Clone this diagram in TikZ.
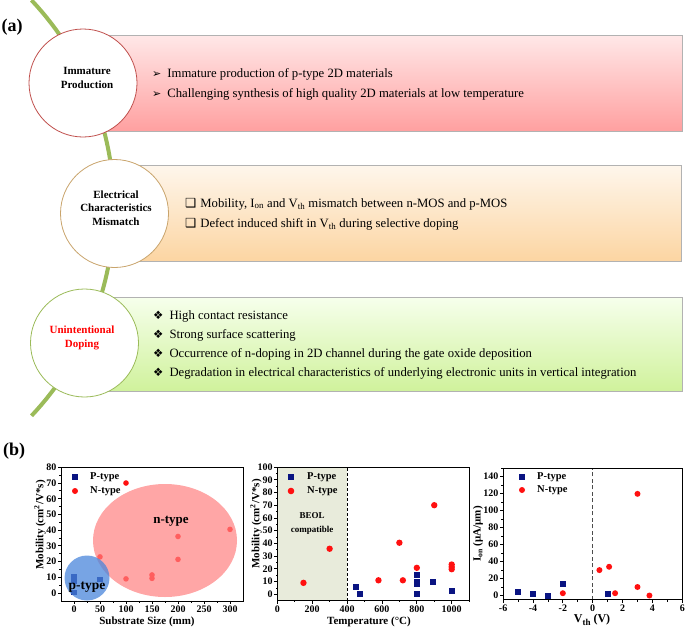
\documentclass[tikz,border=0pt]{standalone}
\usepackage{fontspec}
\setmainfont{Liberation Serif}
\newfontfamily\dejavu{DejaVu Sans}
\usetikzlibrary{shadows}
\definecolor{arcgreen}{HTML}{9BBB59}
\definecolor{cAline}{HTML}{C0504D}
\definecolor{cBline}{HTML}{C9A46C}
\definecolor{cCline}{HTML}{9BBB59}
\definecolor{rAtop}{HTML}{FFE8E8}
\definecolor{rAbot}{HTML}{FFA0A0}
\definecolor{rBtop}{HTML}{FEF6EC}
\definecolor{rBbot}{HTML}{FCD5A2}
\definecolor{rCtop}{HTML}{F6FFEC}
\definecolor{rCbot}{HTML}{D0F29C}
\definecolor{navyq}{HTML}{0A1482}
\definecolor{ptred}{HTML}{FF1010}
\definecolor{beolc}{HTML}{E8EBDB}
\definecolor{ellred}{HTML}{FF8080}
\definecolor{ellblue}{HTML}{4A86DB}
\newcommand\bulA{{\dejavu\fontsize{11}{11}\selectfont ➢}}
\newcommand\bulB{{\dejavu\fontsize{12.5}{12.5}\selectfont ❑}}
\newcommand\bulC{{\dejavu\fontsize{11.5}{11.5}\selectfont ❖}}
\newcommand\mysq[3][3]{\fill[navyq] (#2,#3) +(-#1pt,-#1pt) rectangle +(#1pt,#1pt);}
\newcommand\mydot[3][3.2]{\fill[ptred] (#2,#3) circle[radius=#1pt];}
\begin{document}
\begin{tikzpicture}[x=1pt,y=-1pt,
  lab/.style={anchor=west,inner sep=0pt,font=\bfseries\fontsize{18}{18}\selectfont},
  arcline/.style={draw=arcgreen,line width=4pt},
  rbox/.style={rectangle,minimum width=599,minimum height=96,inner sep=0pt,draw=black!30,line width=0.4pt,
     drop shadow={shadow xshift=1.3pt,shadow yshift=-1.3pt,opacity=0.35,fill=black!70}},
  circ/.style={circle,fill=white,minimum size=108,inner sep=0pt,line width=0.8pt},
  ctxt/.style={align=center,inner sep=0pt,font=\bfseries\fontsize{11}{13.5}\selectfont},
  btxt/.style={anchor=base west,inner sep=0pt,font=\fontsize{12.7}{15}\selectfont},
  frame/.style={draw=black,line width=0.8pt},
  tlab/.style={inner sep=0pt,font=\bfseries\fontsize{10}{10}\selectfont},
  ttl/.style={inner sep=0pt,font=\bfseries\fontsize{11}{11}\selectfont},
  legt/.style={anchor=west,inner sep=0pt,font=\bfseries\fontsize{10.5}{10.5}\selectfont}]
\useasboundingbox (0,0) rectangle (685,629);
% ---------------- panel (a)
\node[lab] (la) at (1.5,27) {(a)};
\draw[arcline] plot[domain=-43.3:43.3,samples=60,variable=\t] ({-189+303*cos(\t)},{208+303*sin(\t)});
\node[rbox,top color=rAtop,bottom color=rAbot] (rA) at (382.5,83) {};
\node[rbox,top color=rBtop,bottom color=rBbot,minimum width=567] (rB) at (397.5,213) {};
\node[rbox,top color=rCtop,bottom color=rCbot,minimum height=94] (rC) at (382.5,344) {};
\node[circ,draw=cAline] (cA) at (83,83) {};
\node[circ,draw=cBline] (cB) at (114.5,213.5) {};
\node[circ,draw=cCline] (cC) at (84.5,343) {};
\node[ctxt] (cAt) at (87,78) {Immature\\Production};
\node[ctxt] (cBt) at (116,208) {Electrical\\Characteristics\\Mismatch};
\node[ctxt,text=red] (cCt) at (82,338) {Unintentional\\Doping};
\node[btxt] (bA1) at (152,77) {\bulA\hspace{6pt}Immature production of p-type 2D materials};
\node[btxt] (bA2) at (152,97) {\bulA\hspace{6pt}Challenging synthesis of high quality 2D materials at low temperature};
\node[btxt] (bB1) at (185,207) {\bulB\hspace{4pt}Mobility, I\textsubscript{on} and V\textsubscript{th} mismatch between n-MOS and p-MOS};
\node[btxt] (bB2) at (185,227) {\bulB\hspace{4pt}Defect induced shift in V\textsubscript{th} during selective doping};
\node[btxt] (bC1) at (153,319.5) {\bulC\hspace{6pt}High contact resistance};
\node[btxt] (bC2) at (153,338.5) {\bulC\hspace{6pt}Strong surface scattering};
\node[btxt] (bC3) at (153,357.5) {\bulC\hspace{6pt}Occurrence of n-doping in 2D channel during the gate oxide deposition};
\node[btxt] (bC4) at (153,376.5) {\bulC\hspace{6pt}Degradation in electrical characteristics of underlying electronic units in vertical integration};
% ---------------- panel (b)
\node[lab] (lb) at (3,451) {(b)};
% plot 1
\begin{scope}[shift={(74,593)},x=0.52pt,y=1.571pt]
  \foreach \v in {0,50,...,300} \draw[frame] (\v,-5) -- ++(0pt,-3pt);
  \foreach \v in {25,75,...,275} \draw[frame] (\v,-5) -- ++(0pt,-1.8pt);
  \foreach \v in {0,10,...,80} \draw[frame] (-25,\v) -- ++(-3pt,0pt);
  \foreach \v in {5,15,...,75} \draw[frame] (-25,\v) -- ++(-1.8pt,0pt);
  \foreach \v [count=\i] in {0,50,...,300} \node[tlab,anchor=north] (pAx\i) at ([yshift=-4.5pt]\v,-5) {\v};
  \foreach \v [count=\i] in {0,10,...,80} \node[tlab,anchor=east] (pAy\i) at ([xshift=-4.5pt]-25,\v) {\v};
  \mysq[2.6]{0}{10.5}\mysq[2.6]{0}{9}\mysq[2.6]{0}{7.5}\mysq[2.6]{0}{0.3}\mysq[2.6]{50}{8.7}
  \mydot[2.8]{100}{70}\mydot[2.8]{50}{23}\mydot[2.8]{100}{9}\mydot[2.8]{150}{11.5}\mydot[2.8]{150}{9.3}
  \mydot[2.8]{200}{36}\mydot[2.8]{200}{21.4}\mydot[2.8]{300}{40.5}
\end{scope}
\fill[ellred,fill opacity=0.7] (165,540.5) ellipse[x radius=72,y radius=56.5];
\fill[ellblue,fill opacity=0.75] (87,578) circle[radius=22.5];
\draw[frame] (61,467.3) rectangle (243,600.9);
\node[inner sep=0pt,font=\bfseries\fontsize{13}{13}\selectfont] (ntl) at (171,521) {n-type};
\node[inner sep=0pt,font=\bfseries\fontsize{13.5}{13.5}\selectfont] (ptl) at (87,587) {p-type};
\mysq[3]{75}{477}\mydot[3]{75}{491}
\node[legt] (lAp) at (90,477) {P-type};
\node[legt] (lAn) at (90,491) {N-type};
\node[ttl,rotate=90] (pAyt) at (40,525) {Mobility (cm\textsuperscript{2}/V*s)};
\node[ttl] (pAxt) at (147,622) {Substrate Size (mm)};
% plot 2
\begin{scope}[shift={(277.3,594.3)},x=0.1744pt,y=1.273pt]
  \fill[beolc] (0,-5) rectangle (400,100);
  \draw[black,line width=0.7pt,dash pattern=on 3pt off 2pt] (400,-5) -- (400,100);
  \draw[frame] (0,-5) rectangle (1100,100);
  \foreach \v in {0,200,...,1000} \draw[frame] (\v,-5) -- ++(0pt,-3pt);
  \foreach \v in {100,300,...,1100} \draw[frame] (\v,-5) -- ++(0pt,-1.8pt);
  \foreach \v in {0,10,...,100} \draw[frame] (0,\v) -- ++(-3pt,0pt);
  \foreach \v in {5,15,...,95} \draw[frame] (0,\v) -- ++(-1.8pt,0pt);
  \foreach \v [count=\i] in {0,200,...,1000} \node[tlab,anchor=north] (pBx\i) at ([yshift=-4.5pt]\v,-5) {\v};
  \foreach \v [count=\i] in {0,10,...,100} \node[tlab,anchor=east] (pBy\i) at ([xshift=-4.5pt]0,\v) {\v};
  \node[align=center,inner sep=0pt,font=\bfseries\fontsize{9}{14}\selectfont] (beol) at (200,56) {BEOL\\compatible};
  \mysq{450}{5.8}\mysq{475}{0}\mysq{800}{15.5}\mysq{800}{9.7}\mysq{800}{7.8}\mysq{800}{0.5}\mysq{890}{9.7}\mysq{1000}{2.6}
  \mydot{150}{9}\mydot{300}{35.8}\mydot{580}{11}\mydot{700}{40.5}\mydot{720}{11}\mydot{800}{20.8}
  \mydot{900}{70}\mydot{1000}{23.4}\mydot{1000}{21.5}\mydot{1000}{19.7}
\end{scope}
\mysq[3.2]{291}{477}\mydot[3.3]{291}{491}
\node[legt] (lBp) at (307,477) {P-type};
\node[legt] (lBn) at (307,491) {N-type};
\node[ttl,rotate=90] (pByt) at (256,524) {Mobility (cm\textsuperscript{2}/V*s)};
\node[ttl] (pBxt) at (369,622) {Temperature (°C)};
% plot 3
\begin{scope}[shift={(592.7,595.5)},x=14.93pt,y=0.85pt]
  \draw[black!70,line width=0.8pt,dash pattern=on 4pt off 2.5pt] (0,-5) -- (0,150);
  \draw[frame] (-6,-5) rectangle (6,150);
  \foreach \v in {-6,-4,...,6} \draw[frame] (\v,-5) -- ++(0pt,-3pt);
  \foreach \v in {-5,-3,...,5} \draw[frame] (\v,-5) -- ++(0pt,-1.8pt);
  \foreach \v in {0,20,...,140} \draw[frame] (-6,\v) -- ++(-3pt,0pt);
  \foreach \v in {10,30,...,150} \draw[frame] (-6,\v) -- ++(-1.8pt,0pt);
  \foreach \v [count=\i] in {-6,-4,...,6} \node[tlab,anchor=north] (pCx\i) at ([yshift=-4.5pt]\v,-5) {\v};
  \foreach \v [count=\i] in {0,20,...,140} \node[tlab,anchor=east] (pCy\i) at ([xshift=-4.5pt]-6,\v) {\v};
  \mysq{-5}{3.9}\mysq{-4}{1.5}\mysq{-3}{0}\mysq{-2}{13.8}\mysq{1}{2}
  \mydot[3]{-2}{2.7}\mydot[3]{0.45}{29.9}\mydot[3]{1.1}{33.8}\mydot[3]{1.5}{2.7}\mydot[3]{3}{119.6}\mydot[3]{3}{10}\mydot[3]{3.8}{0}
\end{scope}
\mysq[3]{522}{477}\mydot[3]{522}{490}
\node[legt] (lCp) at (537,477) {P-type};
\node[legt] (lCn) at (537,490) {N-type};
\node[ttl,rotate=90] (pCyt) at (478,534) {I\textsubscript{on} (μA/μm)};
\node[ttl,font=\bfseries\fontsize{12}{12}\selectfont] (pCxt) at (592,620) {V\raisebox{-3pt}{\fontsize{9}{9}\selectfont th} (V)};
\end{tikzpicture}
\end{document}
